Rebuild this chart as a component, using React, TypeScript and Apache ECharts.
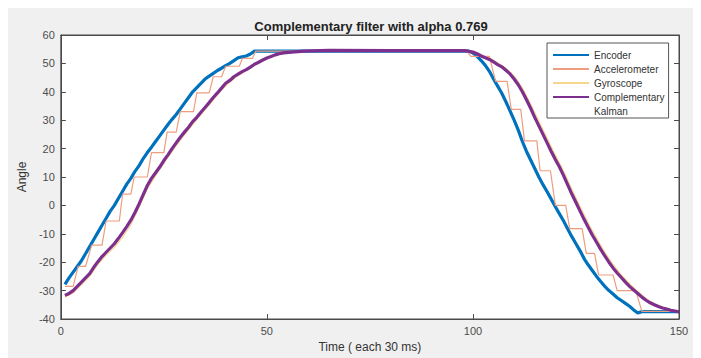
import React, { useEffect, useRef } from "react";
import * as echarts from "echarts";

const titleText = "Complementary filter with alpha 0.769";
const xTicks = { min: 0, max: 150, interval: 50 };
const yTicks = { min: -40, max: 60, interval: 10 };
const seriesNames = ["Encoder", "Accelerometer", "Gyroscope", "Complementary", "Kalman"];

const encoderPoints: [number, number][] = [
  [1, -27.8], [2, -25.5], [3, -23.5], [4, -21.5], [5, -19.5], [6, -17], [7, -14.5], [8, -12], [9, -9.5], [10, -7],
  [11, -4.5], [12, -2], [13, 0], [14, 2.5], [15, 5], [16, 7.5], [17, 9.5], [18, 12], [19, 14], [20, 16.5],
  [21, 18.6], [22, 20.5], [23, 22.5], [24, 24.5], [25, 26.5], [26, 28.5], [27, 30.3], [28, 32], [29, 34], [30, 36],
  [31, 38], [32, 40], [33, 41.5], [34, 43], [35, 44.5], [36, 45.5], [37, 46.5], [38, 47.5], [39, 48.3], [40, 49.2],
  [41, 50], [42, 51], [43, 52], [44, 52.3], [45, 52.6], [46, 53.3], [47, 54.3], [60, 54.3], [80, 54.3], [99, 54.3],
  [100, 53.7], [101, 52.5], [102, 51], [103, 49.3], [104, 47.2], [105, 44.5], [106, 42], [107, 39.5], [108, 36.5], [109, 33.3],
  [110, 30], [111, 26.5], [112, 22.5], [113, 19], [114, 16], [115, 13], [116, 10], [117, 7.3], [118, 4.8], [119, 2.2],
  [120, -0.5], [121, -3], [122, -5.5], [123, -8.3], [124, -11], [125, -13.5], [126, -16], [127, -18.8], [128, -21], [129, -23],
  [130, -25], [131, -26.8], [132, -28.5], [133, -30], [134, -31.2], [135, -32.5], [136, -33.5], [137, -34.5], [138, -35.5], [139, -36.8],
  [140, -37.9], [141, -37.4], [150, -37.4],
];

const accelerometerPoints: [number, number][] = [
  [1, -28.5], [3, -28.5], [4.2, -21.5], [6, -21.5], [7.5, -14], [10, -14], [11, -5.5], [14.2, -5.5], [15, 4], [17, 4],
  [17.8, 10], [21, 10], [22, 18.6], [25, 18.6], [25.8, 25.8], [28, 25.8], [29, 33], [32.2, 33], [33, 39.6], [36, 39.6],
  [37, 45.3], [39, 45.3], [40, 49], [43.3, 49], [44.1, 51.8], [46.5, 51.8], [47.3, 54.3], [98.5, 54.3], [99.5, 52.5], [104, 52.5],
  [105.5, 43.7], [108.3, 43.7], [109.3, 33.8], [111.6, 33.8], [112.5, 22.7], [115.5, 22.7], [116.3, 12.2], [118.8, 12.2], [120, 0], [122.5, 0],
  [123.5, -8.2], [126.5, -8.2], [127.5, -16.9], [129.5, -16.9], [130.5, -24.5], [134, -24.5], [135, -30], [139.5, -30], [141, -37.3], [150, -37.3],
];

const gyroscopePoints: [number, number][] = [
  [1, -32.3], [3, -30.8], [5, -28], [7, -25], [9, -20.8], [11, -17.5], [13, -14.8], [15, -11.2], [17, -6.8], [19, -0.6],
  [21, 5.8], [23, 10.5], [25, 14.8], [27, 19], [29, 23], [31, 26.7], [33, 30.2], [35, 33.7], [37, 37.2], [39, 40.6],
  [41, 43.4], [43, 45.7], [45, 47.4], [47, 49.3], [49, 50.9], [51, 52.2], [53, 53.2], [56, 53.9], [60, 54.3], [65, 54.5],
  [80, 54.5], [98, 54.5], [100, 54.2], [102, 53], [104, 51.9], [106, 50.2], [108, 48.3], [110, 45.6], [112, 41.3], [114, 35.7],
  [116, 29.6], [118, 23.6], [120, 17.7], [122, 12.1], [124, 5.7], [126, -0.4], [128, -6.3], [130, -11.6], [132, -16.5], [134, -20.8],
  [136, -24.5], [138, -27.6], [140, -30.3], [142, -32.8], [144, -34.6], [146, -35.8], [148, -36.7], [150, -37.3],
];

const complementaryPoints: [number, number][] = [
  [1, -31.7], [2, -31], [3, -30], [4, -28.5], [5, -27], [6, -25.5], [7, -24], [8, -21.8], [9, -19.8], [10, -18],
  [11, -16.5], [12, -15], [13, -13.5], [14, -11.6], [15, -9.6], [16, -7.5], [17, -5.2], [18, -2.5], [19, 0.5], [20, 3.8],
  [21, 7], [22, 9.5], [23, 11.5], [24, 13.5], [25, 15.8], [26, 17.8], [27, 20], [28, 22], [29, 24], [30, 25.8],
  [31, 27.5], [32, 29.5], [33, 31], [34, 32.8], [35, 34.5], [36, 36.2], [37, 38], [38, 39.6], [39, 41.3], [40, 43],
  [41, 44], [42, 45.3], [43, 46.2], [44, 47.1], [45, 47.8], [46, 48.7], [47, 49.7], [48, 50.4], [49, 51.2], [50, 51.9],
  [51, 52.4], [52, 53], [53, 53.4], [54, 53.7], [56, 54], [59, 54.3], [65, 54.6], [80, 54.5], [98, 54.5], [100, 54],
  [101, 53.4], [102, 52.6], [103, 52], [104, 51.4], [105, 50.5], [106, 49.6], [107, 48.8], [108, 47.6], [109, 46.3], [110, 44.5],
  [111, 42.5], [112, 40], [113, 37.2], [114, 34.2], [115, 31], [116, 28], [117, 25], [118, 22], [119, 19], [120, 16.2],
  [121, 13.5], [122, 10.5], [123, 7.2], [124, 4], [125, 1], [126, -2], [127, -5], [128, -7.8], [129, -10.5], [130, -13],
  [131, -15.5], [132, -17.8], [133, -20], [134, -22], [135, -23.8], [136, -25.4], [137, -27], [138, -28.5], [139, -29.8], [140, -31],
  [141, -32.3], [142, -33.4], [143, -34.3], [144, -35], [145, -35.6], [146, -36.1], [147, -36.5], [148, -36.9], [149, -37.2], [150, -37.5],
];

const kalmanPoints: [number, number][] = [];

const FONT = "'Liberation Sans', Arial, sans-serif";
const AXIS_COLOR = "#4a4a4a";
const LABEL_COLOR = "#4d4d4d";

export default function App() {
  const ref = useRef<HTMLDivElement>(null);
  useEffect(() => {
    if (!ref.current) return;
    const chart = echarts.init(ref.current, null, { renderer: "svg" });
    const axisBase = {
      type: "value" as const,
      axisLine: { show: true, onZero: false, lineStyle: { color: AXIS_COLOR, width: 1 } },
      axisTick: { show: true, inside: true, length: 5, lineStyle: { color: AXIS_COLOR } },
      splitLine: { show: false },
    };
    chart.setOption({
      animation: false,
      backgroundColor: "#f0f0f0",
      textStyle: { fontFamily: FONT },
      title: {
        text: titleText,
        left: 358,
        textAlign: "center",
        top: 7,
        textStyle: { fontSize: 13, fontWeight: "bold", color: "#222", fontFamily: FONT },
      },
      legend: {
        data: seriesNames,
        orient: "vertical",
        left: 539,
        top: 35,
        padding: [6, 4, 1, 5],
        itemWidth: 36,
        itemHeight: 12,
        itemGap: 2,
        itemStyle: { opacity: 0 },
        backgroundColor: "#ffffff",
        borderColor: "#555",
        borderWidth: 1,
        borderRadius: 0,
        textStyle: { fontSize: 10, color: "#333", fontFamily: FONT, lineHeight: 12 },
        selectedMode: false,
      },
      grid: {
        left: 44,
        top: 27,
        width: 627,
        height: 286,
        show: true,
        backgroundColor: "#ffffff",
        borderColor: AXIS_COLOR,
        borderWidth: 1,
      },
      xAxis: [
        {
          ...axisBase,
          position: "bottom",
          min: xTicks.min,
          max: xTicks.max,
          interval: xTicks.interval,
          name: "Time ( each 30 ms)",
          nameLocation: "middle",
          nameGap: 22,
          nameTextStyle: { fontSize: 12, color: "#333", fontFamily: FONT },
          axisLabel: { fontSize: 11, color: LABEL_COLOR, margin: 6, fontFamily: FONT },
        },
        {
          ...axisBase,
          position: "top",
          min: xTicks.min,
          max: xTicks.max,
          interval: xTicks.interval,
          axisLabel: { show: false },
        },
      ],
      yAxis: [
        {
          ...axisBase,
          position: "left",
          min: yTicks.min,
          max: yTicks.max,
          interval: yTicks.interval,
          name: "Angle",
          nameLocation: "middle",
          nameGap: 24,
          nameRotate: 90,
          nameTextStyle: { fontSize: 12, color: "#333", fontFamily: FONT },
          axisLabel: { fontSize: 11, color: LABEL_COLOR, margin: 6, fontFamily: FONT },
        },
        {
          ...axisBase,
          position: "right",
          min: yTicks.min,
          max: yTicks.max,
          interval: yTicks.interval,
          axisLabel: { show: false },
        },
      ],
      series: [
        {
          name: "Encoder",
          type: "line",
          data: encoderPoints,
          symbol: "none",
          color: "#0072BD",
          lineStyle: { width: 3.2, color: "#0072BD" },
          z: 2,
        },
        {
          name: "Accelerometer",
          type: "line",
          data: accelerometerPoints,
          symbol: "none",
          color: "#EE9D7E",
          lineStyle: { width: 1.2, color: "#EE9D7E" },
          z: 3,
        },
        {
          name: "Gyroscope",
          type: "line",
          data: gyroscopePoints,
          symbol: "none",
          color: "#F5D68C",
          lineStyle: { width: 1.2, color: "#F5D68C" },
          z: 3,
        },
        {
          name: "Complementary",
          type: "line",
          data: complementaryPoints,
          symbol: "none",
          color: "#7E2F8E",
          lineStyle: { width: 3.2, color: "#7E2F8E" },
          z: 4,
        },
        {
          name: "Kalman",
          type: "line",
          data: kalmanPoints,
          symbol: "none",
          color: "rgba(0,0,0,0)",
          lineStyle: { width: 1, color: "rgba(0,0,0,0)" },
        },
      ],
    });
    return () => chart.dispose();
  }, []);
  return (
    <div
      ref={ref}
      style={{ width: 686, height: 350 }}
    />
  );
}
